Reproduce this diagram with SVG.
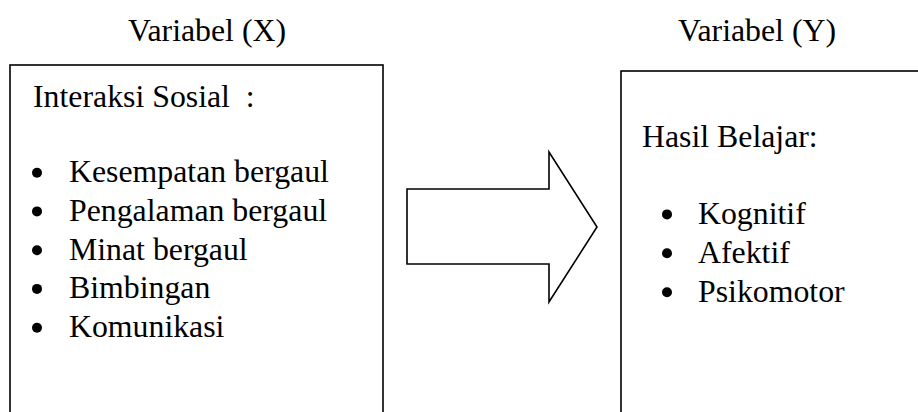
<svg xmlns="http://www.w3.org/2000/svg" width="918" height="412" viewBox="0 0 918 412">
  <style>
    text { font-family: "Liberation Serif", "Times New Roman", "DejaVu Serif", serif; font-size: 31.8px; fill: #000; }
    .box { fill: #fff; stroke: #000; stroke-width: 1.6; }
    .dot { fill: #000; }
    .block-arrow { fill: #fff; stroke: #000; stroke-width: 1.6; stroke-linejoin: miter; }
  </style>
  <rect width="918" height="412" fill="#fff"/>

  <!-- column headings -->
  <text x="128" y="41">Variabel (X)</text>
  <text x="678" y="41">Variabel (Y)</text>

  <!-- independent variable -->
  <g id="node-x">
    <rect class="box" x="10" y="65" width="373" height="360"/>
    <text x="33" y="107" xml:space="preserve">Interaksi Sosial  :</text>
    <circle class="dot" cx="37" cy="172.7" r="5"/>
    <text x="69" y="182">Kesempatan bergaul</text>
    <circle class="dot" cx="37" cy="211.4" r="5"/>
    <text x="69" y="220.7">Pengalaman bergaul</text>
    <circle class="dot" cx="37" cy="250.2" r="5"/>
    <text x="69" y="259.5">Minat bergaul</text>
    <circle class="dot" cx="37" cy="288.9" r="5"/>
    <text x="69" y="298.2">Bimbingan</text>
    <circle class="dot" cx="37" cy="327.7" r="5"/>
    <text x="69" y="337">Komunikasi</text>
  </g>

  <!-- dependent variable -->
  <g id="node-y">
    <rect class="box" x="621" y="71" width="320" height="360"/>
    <text x="642" y="146.7">Hasil Belajar:</text>
    <circle class="dot" cx="667" cy="214.4" r="5"/>
    <text x="698" y="223.7">Kognitif</text>
    <circle class="dot" cx="667" cy="253.3" r="5"/>
    <text x="698" y="262.7">Afektif</text>
    <circle class="dot" cx="667" cy="292.3" r="5"/>
    <text x="698" y="301.7">Psikomotor</text>
  </g>

  <!-- block arrow X to Y -->
  <g id="connectors">
    <polygon class="block-arrow" points="407,189 549,189 549,152 597,227 549,302 549,264 407,264"/>
  </g>
</svg>
